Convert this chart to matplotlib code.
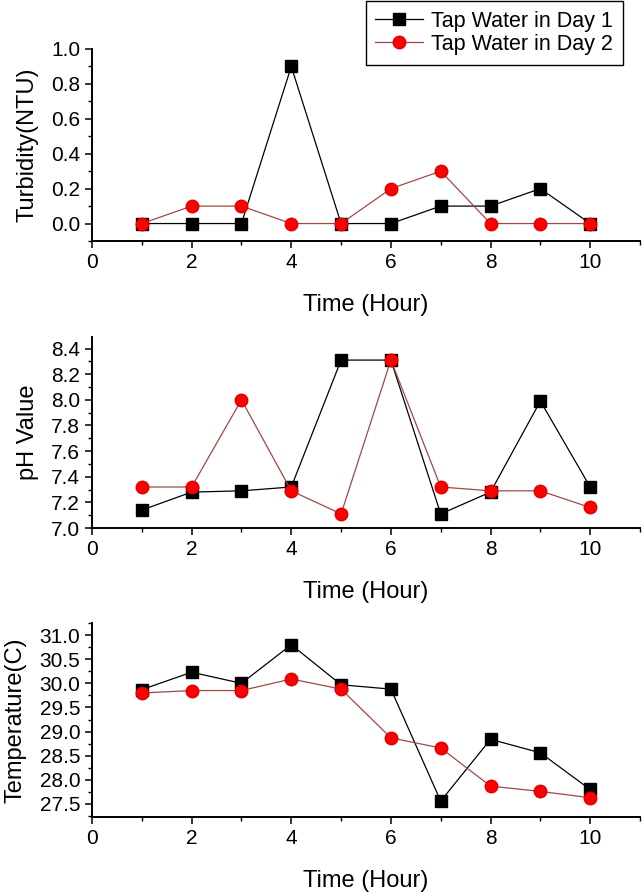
import matplotlib
matplotlib.use("Agg")
import matplotlib.pyplot as plt
from matplotlib.ticker import MultipleLocator

plt.rcParams['font.family'] = ['Liberation Sans', 'DejaVu Sans']

hours = [1, 2, 3, 4, 5, 6, 7, 8, 9, 10]
series_names = ["Tap Water in Day 1", "Tap Water in Day 2"]

turb_day1 = [0.0, 0.0, 0.0, 0.9, 0.0, 0.0, 0.1, 0.1, 0.2, 0.0]
turb_day2 = [0.0, 0.1, 0.1, 0.0, 0.0, 0.2, 0.3, 0.0, 0.0, 0.0]

ph_day1 = [7.14, 7.28, 7.29, 7.32, 8.31, 8.31, 7.11, 7.28, 7.99, 7.32]
ph_day2 = [7.32, 7.32, 8.00, 7.29, 7.11, 8.31, 7.32, 7.29, 7.29, 7.16]

temp_day1 = [29.87, 30.23, 30.00, 30.80, 29.97, 29.88, 27.56, 28.84, 28.56, 27.80]
temp_day2 = [29.80, 29.85, 29.85, 30.09, 29.88, 28.87, 28.66, 27.87, 27.76, 27.63]

xlabel = "Time (Hour)"
ylabels = ["Turbidity(NTU)", "pH Value", "Temperature(C)"]

fig = plt.figure(figsize=(6.44, 8.96), dpi=100)

W, H = 644, 896
def rect(left, right, top, bottom):
    return [left / W, 1 - bottom / H, (right - left) / W, (bottom - top) / H]

panels = [
    dict(rect=rect(92, 640, 49, 241), d1=turb_day1, d2=turb_day2, ylim=(-0.1, 1.0),
         major=0.2, minor=0.1, ylabel=ylabels[0]),
    dict(rect=rect(92, 640, 337, 528), d1=ph_day1, d2=ph_day2, ylim=(7.0, 8.49),
         major=0.2, minor=0.1, ylabel=ylabels[1]),
    dict(rect=rect(92, 640, 623, 817), d1=temp_day1, d2=temp_day2, ylim=(27.23, 31.25),
         major=0.5, minor=0.25, ylabel=ylabels[2]),
]

red_line = "#a04848"
handles = None
for p in panels:
    ax = fig.add_axes(p["rect"])
    l1, = ax.plot(hours, p["d1"], color="black", lw=0.9, marker="s", ms=9,
                  mfc="black", mec="black", zorder=3, clip_on=False)
    l2, = ax.plot(hours, p["d2"], color=red_line, lw=0.9, marker="o", ms=9,
                  mfc="#ff0000", mec="#e00000", zorder=4, clip_on=False)
    handles = [l1, l2]
    ax.set_xlim(0, 11)
    ax.set_ylim(*p["ylim"])
    ax.xaxis.set_major_locator(MultipleLocator(2))
    ax.xaxis.set_minor_locator(MultipleLocator(1))
    ax.yaxis.set_major_locator(MultipleLocator(p["major"]))
    ax.yaxis.set_minor_locator(MultipleLocator(p["minor"]))
    ax.set_xticks([0, 2, 4, 6, 8, 10])
    for side in ("top", "right"):
        ax.spines[side].set_visible(False)
    for side in ("left", "bottom"):
        ax.spines[side].set_linewidth(1.4)
    ax.tick_params(which="major", direction="out", length=5, width=1.1, labelsize=15)
    ax.tick_params(which="minor", direction="out", length=3, width=1.0)
    ax.set_xlabel(xlabel, fontsize=17, labelpad=16)
    ax.set_ylabel(p["ylabel"], fontsize=17, labelpad=9)

fig.legend(handles, series_names, loc="upper right",
           bbox_to_anchor=(623 / W, 1 - 1 / H), fontsize=15.5, frameon=True,
           fancybox=False, edgecolor="black", framealpha=1, handlelength=2.2,
           borderpad=0.45, labelspacing=0.1, handletextpad=0.4, borderaxespad=0)

fig.savefig("out.png", dpi=100)
